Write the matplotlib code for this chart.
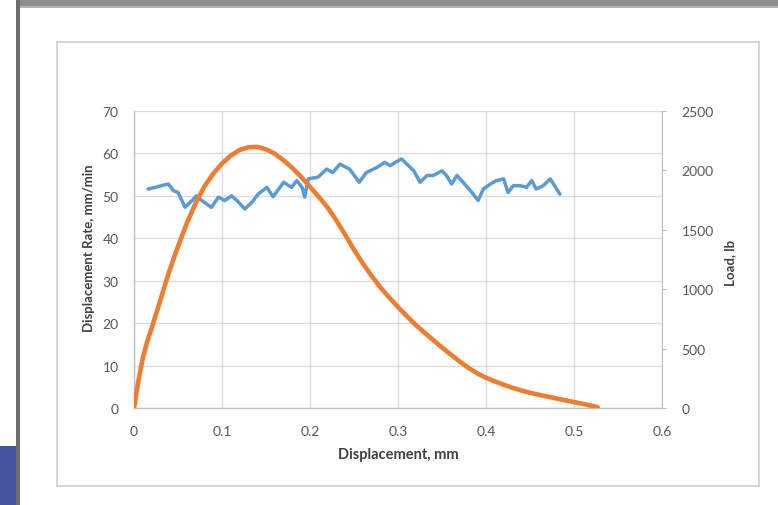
import matplotlib
matplotlib.use("Agg")
import matplotlib.pyplot as plt
from matplotlib.patches import Rectangle

# ---- data ----
load_disp = [0.0, 0.005, 0.010, 0.015, 0.020, 0.030, 0.040, 0.050, 0.060, 0.070,
             0.080, 0.090, 0.100, 0.110, 0.120, 0.130, 0.140, 0.150, 0.160, 0.170,
             0.180, 0.190, 0.200, 0.210, 0.220, 0.230, 0.240, 0.250, 0.260, 0.270,
             0.280, 0.290, 0.300, 0.310, 0.320, 0.330, 0.340, 0.350, 0.360, 0.370,
             0.380, 0.390, 0.400, 0.410, 0.420, 0.430, 0.440, 0.450, 0.460, 0.470,
             0.480, 0.490, 0.500, 0.510, 0.520, 0.527]
load_lb = [0, 230, 420, 560, 670, 910, 1150, 1360, 1555, 1725,
           1865, 1972, 2058, 2125, 2172, 2195, 2198, 2178, 2140, 2085,
           2020, 1945, 1862, 1777, 1688, 1578, 1458, 1332, 1218, 1112,
           1015, 930, 850, 774, 700, 635, 572, 510, 450, 392,
           338, 292, 255, 224, 196, 170, 148, 128, 112, 96,
           80, 65, 50, 35, 19, 6]

rate_disp = [0.016, 0.024, 0.031, 0.039, 0.045, 0.050, 0.058, 0.066, 0.071, 0.077,
             0.088, 0.096, 0.103, 0.111, 0.117, 0.126, 0.134, 0.141, 0.151, 0.158,
             0.170, 0.179, 0.185, 0.191, 0.194, 0.198, 0.209, 0.219, 0.226, 0.234,
             0.245, 0.256, 0.264, 0.276, 0.285, 0.291, 0.297, 0.304, 0.310, 0.318,
             0.325, 0.333, 0.340, 0.350, 0.355, 0.361, 0.367, 0.374, 0.384, 0.391,
             0.397, 0.405, 0.412, 0.420, 0.425, 0.431, 0.439, 0.446, 0.452, 0.457,
             0.465, 0.473, 0.484]
rate_mm_min = [51.6, 52.0, 52.4, 52.8, 51.2, 50.8, 47.3, 48.9, 50.0, 48.9,
               47.3, 49.7, 48.9, 50.0, 48.9, 46.9, 48.5, 50.4, 52.0, 49.8,
               53.2, 52.0, 53.6, 52.0, 49.7, 54.0, 54.4, 56.3, 55.5, 57.5,
               56.3, 53.2, 55.5, 56.7, 57.9, 57.1, 57.9, 58.7, 57.5, 55.9,
               53.2, 54.8, 54.8, 55.9, 54.8, 52.8, 54.8, 53.2, 50.8, 48.9,
               51.6, 52.8, 53.6, 54.0, 50.8, 52.4, 52.4, 52.0, 53.6, 51.6,
               52.4, 54.0, 50.4]

x_ticks = [0, 0.1, 0.2, 0.3, 0.4, 0.5, 0.6]
x_tick_labels = ["0", "0.1", "0.2", "0.3", "0.4", "0.5", "0.6"]
left_ticks = [0, 10, 20, 30, 40, 50, 60, 70]
right_ticks = [0, 500, 1000, 1500, 2000, 2500]

W, H = 778, 506
fig = plt.figure(figsize=(W / 100, H / 100), dpi=100)
fig.patch.set_facecolor("white")

def fx(px):
    return px / W

def fy(py):
    return 1 - py / H

def rect(x0, y0, x1, y1, **kw):
    fig.patches.append(Rectangle((fx(x0), fy(y1)), fx(x1) - fx(x0), fy(y0) - fy(y1),
                                 transform=fig.transFigure, **kw))

# screenshot frame decorations
rect(17, 0, 778, 9, facecolor="#8f8f8f", edgecolor="none")
rect(17, 7, 778, 9, facecolor="#b5b5b5", edgecolor="none")
rect(16, 0, 20, 506, facecolor="#6e6e6e", edgecolor="none")
rect(0, 447, 16, 506, facecolor="#4752a3", edgecolor="none")
rect(57, 43, 759, 487, facecolor="none", edgecolor="#d0d0d0", linewidth=1.2)

FONT = "Lato"
TICK_C = "#595959"
LAB_C = "#404040"
TICK_FS = 10

ax = fig.add_axes([fx(134), fy(409), fx(662) - fx(134), fy(112) - fy(409)])
ax.set_xlim(0, 0.6)
ax.set_ylim(0, 70)
ax.set_xticks(x_ticks)
ax.set_xticklabels(x_tick_labels)
ax.set_yticks(left_ticks)
ax.grid(True, color="#dcdcdc", linewidth=1.0)
ax.set_axisbelow(True)
for s in ["top", "right"]:
    ax.spines[s].set_visible(False)
for s in ["left", "bottom"]:
    ax.spines[s].set_color("#bfbfbf")
    ax.spines[s].set_linewidth(1.0)
ax.tick_params(axis="x", length=0, pad=12, labelsize=TICK_FS, labelcolor=TICK_C)
ax.tick_params(axis="y", length=0, pad=11, labelsize=TICK_FS, labelcolor=TICK_C)
for lab in ax.get_xticklabels() + ax.get_yticklabels():
    lab.set_fontfamily(FONT)

ax.plot(rate_disp, rate_mm_min, color="#5b9bd5", linewidth=2.5,
        solid_joinstyle="round", solid_capstyle="round", zorder=3)

ax2 = ax.twinx()
ax2.set_ylim(0, 2500)
ax2.set_yticks(right_ticks)
for s in ["top", "left", "bottom"]:
    ax2.spines[s].set_visible(False)
ax2.spines["right"].set_color("#bfbfbf")
ax2.tick_params(axis="y", length=3, color="#bfbfbf", pad=11, labelsize=TICK_FS,
                labelcolor=TICK_C)
for lab in ax2.get_yticklabels():
    lab.set_fontfamily(FONT)
ax2.plot(load_disp, load_lb, color="#ed7d31", linewidth=3.3,
         solid_capstyle="round", solid_joinstyle="round", zorder=4)

fig.text(fx(398), fy(455), "Displacement, mm", ha="center", va="center",
         fontsize=10.5, fontweight="bold", color=LAB_C, family=FONT)
fig.text(fx(89), fy(248), "Displacement Rate, mm/min", ha="center", va="center",
         rotation=90, fontsize=9.5, fontweight="bold", color=LAB_C, family=FONT)
fig.text(fx(730), fy(263), "Load, lb", ha="center", va="center",
         rotation=90, fontsize=9.5, fontweight="bold", color=LAB_C, family=FONT)

fig.savefig("out.png", dpi=100)
